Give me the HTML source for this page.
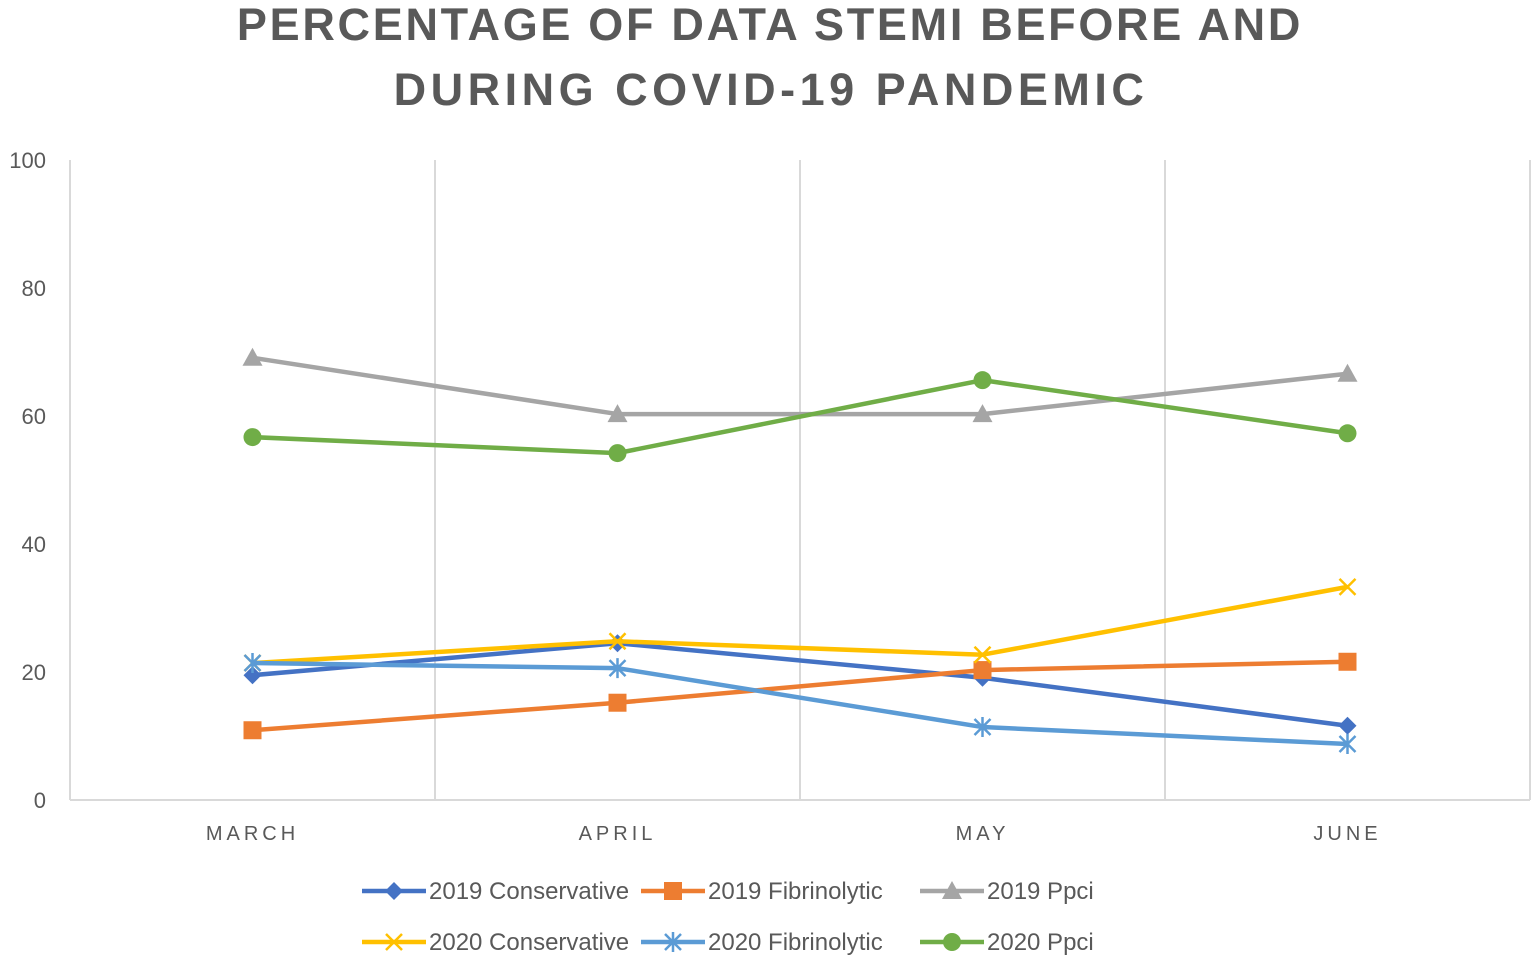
<!DOCTYPE html>
<html><head><meta charset="utf-8"><style>
body{margin:0;background:#fff;width:1535px;height:960px;overflow:hidden;font-family:"Liberation Sans",sans-serif}
</style></head><body>
<svg id="chart" width="1535" height="960" xmlns="http://www.w3.org/2000/svg">
<g font-family="Liberation Sans, sans-serif" font-weight="bold" font-size="45" fill="#595959" text-anchor="middle">
<text x="770" y="40" letter-spacing="2.7">PERCENTAGE OF DATA STEMI BEFORE AND</text>
<text x="771" y="105" letter-spacing="4.5">DURING COVID-19 PANDEMIC</text>
</g>
<g id="grid"></g><g id="axes"></g><g id="series"></g><g id="legend"></g>
</svg>
<script>
const categories=["MARCH","APRIL","MAY","JUNE"];
const yTicks=[0,20,40,60,80,100];
const s2019Conservative=[19.5,24.5,19.1,11.6];
const s2019Fibrinolytic=[10.9,15.2,20.3,21.6];
const s2019Ppci=[69.1,60.3,60.3,66.6];
const s2020Conservative=[21.4,24.8,22.7,33.3];
const s2020Fibrinolytic=[21.4,20.6,11.4,8.75];
const s2020Ppci=[56.7,54.2,65.6,57.3];
const seriesNames=["2019 Conservative","2019 Fibrinolytic","2019 Ppci","2020 Conservative","2020 Fibrinolytic","2020 Ppci"];

const NS="http://www.w3.org/2000/svg";
const L=70,R=1530,T=160,B=800;
const step=(R-L)/categories.length;
const x=i=>L+step*(i+0.5);
const y=v=>B-(v/100)*(B-T);
function mk(t,a,p){const e=document.createElementNS(NS,t);for(const k in a)e.setAttribute(k,a[k]);p.appendChild(e);return e;}
const grid=document.getElementById('grid'),axes=document.getElementById('axes'),ser=document.getElementById('series'),leg=document.getElementById('legend');
for(let i=0;i<=categories.length;i++){const gx=L+step*i;const l=mk('line',{x1:gx,x2:gx,y1:T,y2:B,stroke:'#d9d9d9','stroke-width':2},grid);

}
const xa=mk('line',{x1:L,x2:R,y1:B,y2:B,stroke:'#d9d9d9','stroke-width':2},axes);


yTicks.forEach(v=>{const t=mk('text',{x:46,y:y(v)+8,'text-anchor':'end','font-size':22,fill:'#595959'},axes);t.textContent=v;

});
categories.forEach((c,i)=>{const t=mk('text',{x:x(i),y:840,'text-anchor':'middle','font-size':20,fill:'#595959','letter-spacing':4},axes);t.textContent=c;

});
const colors=['#4472c4','#ed7d31','#a5a5a5','#ffc000','#5b9bd5','#70ad47'];
const markers=['diamond','square','triangle','x','star','circle'];
function marker(g,type,cx,cy,c){
 if(type==='diamond')mk('polygon',{points:`${cx},${cy-9} ${cx+9},${cy} ${cx},${cy+9} ${cx-9},${cy}`,fill:c},g);
 else if(type==='square')mk('rect',{x:cx-9,y:cy-9,width:18,height:18,fill:c},g);
 else if(type==='triangle')mk('polygon',{points:`${cx},${cy-10} ${cx+10},${cy+8} ${cx-10},${cy+8}`,fill:c},g);
 else if(type==='circle')mk('circle',{cx,cy,r:9,fill:c},g);
 else{const d=8;mk('path',{d:`M${cx-d},${cy-d}L${cx+d},${cy+d}M${cx-d},${cy+d}L${cx+d},${cy-d}`+(type==='star'?`M${cx},${cy-d-2}L${cx},${cy+d+2}`:''),stroke:c,'stroke-width':2.5},g);}
}
const data=[s2019Conservative,s2019Fibrinolytic,s2019Ppci,s2020Conservative,s2020Fibrinolytic,s2020Ppci];
data.forEach((vals,si)=>{const g=mk('g',{},ser);


mk('polyline',{points:vals.map((v,i)=>x(i)+','+y(v)).join(' '),fill:'none',stroke:colors[si],'stroke-width':4.5,'stroke-linejoin':'round'},g);
vals.forEach((v,i)=>marker(g,markers[si],x(i),y(v),colors[si]));});
const lx=[362,641,920],ly=[891,942];
seriesNames.forEach((n,i)=>{const g=mk('g',{},leg);


const px=lx[i%3],py=ly[Math.floor(i/3)];
mk('line',{x1:px,x2:px+64,y1:py,y2:py,stroke:colors[i],'stroke-width':4.5},g);
marker(g,markers[i],px+32,py,colors[i]);
const t=mk('text',{x:px+67,y:py+8,'font-size':24,fill:'#595959'},g);t.textContent=n;});
</script>
</body></html>
